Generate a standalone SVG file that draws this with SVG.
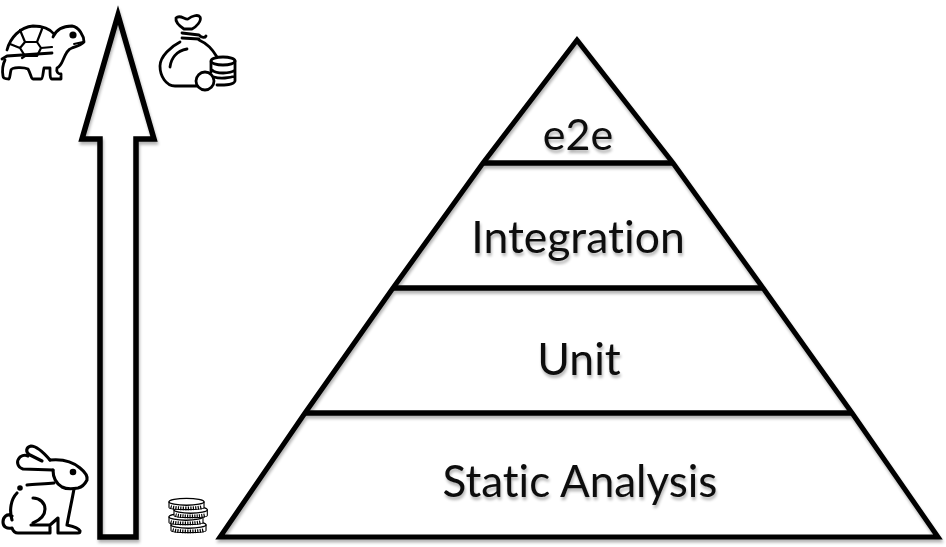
<svg xmlns="http://www.w3.org/2000/svg" width="946" height="547" viewBox="0 0 946 547">
<defs>
<filter id="sh" x="-10%" y="-10%" width="120%" height="120%"><feGaussianBlur in="SourceAlpha" stdDeviation="1.5"/><feOffset dx="1" dy="2.5"/><feComponentTransfer><feFuncA type="linear" slope="0.3"/></feComponentTransfer><feMerge><feMergeNode/><feMergeNode in="SourceGraphic"/></feMerge></filter>
<g id="coin"><path d="M0 4V10C0 13 34 13 34 10V4" fill="#fff" stroke="#000" stroke-width="1.1"/><path d="M1.5 9.5C8 11.5 26 11.5 32.5 9.5" fill="none" stroke="#000" stroke-width="4" stroke-dasharray="1.2 1.2"/><ellipse cx="17" cy="4" rx="17" ry="3.6" fill="#fff" stroke="#000" stroke-width="1.4"/></g>
</defs>
<style>
.o{fill:none;stroke:#000;stroke-linejoin:miter}
.i{fill:none;stroke:#000;stroke-width:2.8;stroke-linecap:round;stroke-linejoin:round}
.r{stroke-width:3.1}
.t{font-family:"Lato","Liberation Sans",sans-serif;font-size:44.5px;fill:#111;text-anchor:middle;font-variant-ligatures:none;filter:url(#sh)}
</style>
<rect width="946" height="547" fill="#fff"/>
<g id="pyramid" filter="url(#sh)">
<path class="o" stroke-width="5" stroke-miterlimit="3" d="M577 40L673 163L763 288L852 413L938 537H220L305 413L393 288L483 163Z"/>
<path class="o" stroke-width="5.5" d="M483 163H673M393 288H763M305 413H852"/>
</g>
<g id="arrow"><path class="o" stroke-width="5.5" filter="url(#sh)" d="M118 15L154 139H136V537H100V139H82Z"/></g>
<g id="node-e2e"><text class="t" x="578" y="149.500" style="font-size:43px">e2e</text></g>
<g id="node-integration"><text class="t" x="578" y="253">Integration</text></g>
<g id="node-unit"><text class="t" x="579" y="375">Unit</text></g>
<g id="node-static"><text class="t" x="580" y="497" style="font-size:44px">Static Analysis</text></g>
<g id="turtle" class="i">
<path d="M7 50C10 38 20 27 33 26C43 26 50 29 54 34M2 59L7 56L52 53"/>
<path d="M20 48L25 42H37L41 48L37 56H25ZM25 42L20 30M37 42L42 29M41 48L52 47M20 48L10 44M25 56L22 58" stroke-width="2.2"/>
<path d="M53 37C56 30 62 26 72 26C79 27 84 36 84 42C80 46 74 47 72 48C68 49 66 53 63 60C61 65 59 67 57 68C56 72 58 74 61 74V79H52C50 79 50 74 50 68H44C43 72 43 79 41 79H33C31 79 31 74 28 69C24 67 12 67 11 70C10 74 10 78 9 79C6 79 3 79 3 76C2 70 3 64 5 60"/>
<circle cx="73" cy="35" r="2.2" fill="#000"/>
<path d="M74 44L83 42" stroke-width="1.8"/>
</g>
<g id="money-bag" class="i">
<path d="M176 18C180 14 185 20 188 19C192 16 198 14 200 17C202 21 196 27 192 29H184C181 27 175 23 176 18Z"/>
<path d="M182 33L199 35C202 38 205 38 206 36M182 38L199 39"/>
<path d="M180 42C172 46 160 56 160 66C160 76 166 86 175 86H197"/>
<path d="M199 40C206 43 213 50 217 57"/>
<path d="M170 67C171 59 176 51 187 49"/>
<circle cx="205" cy="81" r="9" fill="#fff"/>
<ellipse cx="223" cy="61" rx="12" ry="4" fill="#fff"/>
<path d="M211 62V72M235 61V81C234 85 225 85 217 85M212 70C216 74 230 74 235 70M214 77C220 79 230 78 235 76"/>
</g>
<g id="rabbit" class="i">
<path class="r" d="M50 460C44 453 36 446 31 446C26 447 25 452 30 455L42 461"/>
<path class="r" d="M53 470L23 469C17 467 16 461 20 457C23 455 26 455 28 456"/>
<path class="r" d="M50 460C60 459 72 461 80 468C85 472 88 476 87 480C85 484 82 487 78 488C72 489 66 489 62 487C57 484 53 478 53 470"/>
<path class="r" d="M27 485C34 484 44 484 54 483"/>
<path class="r" d="M74 489C72 500 69 514 67 525C72 526 78 527 80 531C80 533 79 533 78 533H58V518L50 525H31M17 493C11 499 9 510 12 520M12 516C7 513 3 517 3 522C3 527 7 529 12 528C13 531 15 533 18 533H50V527"/>
<path class="r" d="M33 498C40 498 45 503 45 509C45 515 40 520 33 523"/>
<circle cx="73" cy="472" r="1.9" fill="#000"/><circle cx="20" cy="488" r="1.4" fill="#000"/>
</g>
<g id="coins">
<use href="#coin" transform="translate(171 521) scale(1.03 .95)"/>
<use href="#coin" transform="translate(169 513) scale(1 .95)"/>
<use href="#coin" transform="translate(174 506) scale(.98 .95)"/>
<use href="#coin" transform="translate(169 498) scale(1.03 .95)"/>
</g>
</svg>
